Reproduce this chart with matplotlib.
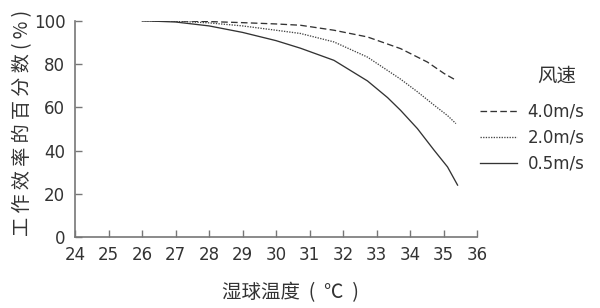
import matplotlib
matplotlib.use("Agg")
import matplotlib.pyplot as plt
import numpy as np

plt.rcParams['font.family'] = ['Noto Sans CJK SC', 'DejaVu Sans']

x_fast = [26, 27, 28, 29, 30, 30.73, 31.73, 32.73, 33.72, 34.52, 35.02, 35.34]
y_fast = [100, 99.9, 99.6, 99.1, 98.5, 97.9, 95.6, 92.5, 87.1, 80.9, 75.6, 72.8]

x_mid = [26, 27, 28, 29, 30, 30.73, 31.73, 32.73, 33.72, 34.22, 34.72, 35.12, 35.37]
y_mid = [100, 99.8, 99.0, 97.6, 95.6, 94.1, 90.2, 83.2, 73.0, 67.2, 61.0, 56.2, 52.5]

x_slow = [26, 27, 28, 29, 30, 30.73, 31.73, 32.73, 33.33, 33.72, 34.22, 34.72, 35.12, 35.42]
y_slow = [100, 99.4, 97.6, 94.6, 90.8, 87.3, 81.7, 72.2, 64.5, 58.6, 50.2, 40.2, 32.5, 24.1]

labels = ["4.0m/s", "2.0m/s", "0.5m/s"]
legend_title = "风速"
xticks = list(range(24, 37))
yticks = [0, 20, 40, 60, 80, 100]

W, H = 600, 308
fig = plt.figure(figsize=(W / 100, H / 100), dpi=100)
ax = fig.add_axes([75 / W, 1 - 237.3 / H, (477 - 75) / W, (237.3 - 20.7) / H])

lc = '#333333'
ax.plot(x_fast, y_fast, color=lc, lw=0.95, ls=(0, (5, 2.5)), label=labels[0])
ax.plot(x_mid, y_mid, color='#444444', lw=0.95, ls=(0, (1, 1)), label=labels[1])
ax.plot(x_slow, y_slow, color=lc, lw=0.95, ls='-', label=labels[2])

ax.set_xlim(24, 36)
ax.set_ylim(0, 100)
ax.set_xticks(xticks)
ax.set_yticks(yticks)
for s in ['top', 'right']:
    ax.spines[s].set_visible(False)
for s in ['left', 'bottom']:
    ax.spines[s].set_color('#777777')
    ax.spines[s].set_linewidth(1.2)
ax.tick_params(direction='in', length=5, width=1, color='#777777',
               labelsize=12, labelcolor='#333333')
for lab in ax.get_xticklabels() + ax.get_yticklabels():
    lab.set_family('DejaVu Sans')
ax.tick_params(axis='x', pad=6)
ax.tick_params(axis='y', pad=7)

ax.set_xlabel("湿球温度  (  ℃  )", fontsize=14, color='#333333')
ax.xaxis.set_label_coords(290 / W, 1 - 282 / H, transform=fig.transFigure)
ax.set_ylabel("工 作 效 率 的 百 分 数 ( % )", fontsize=13.8, color='#333333')
ax.yaxis.set_label_coords(33 / W, 1 - 123 / H, transform=fig.transFigure)

leg = ax.legend(loc='upper left', bbox_to_anchor=(480 / W, 1 - 102.5 / H),
                bbox_transform=fig.transFigure, frameon=False,
                prop={'family': 'DejaVu Sans', 'size': 12},
                handlelength=2.2, handletextpad=0.66, labelspacing=0.48,
                borderpad=0, borderaxespad=0)
for t in leg.get_texts():
    t.set_color('#333333')
fig.text(557 / W, 1 - 76 / H, legend_title, fontsize=14, color='#333333',
         ha='center', va='center')

fig.savefig("out.png", dpi=100)
